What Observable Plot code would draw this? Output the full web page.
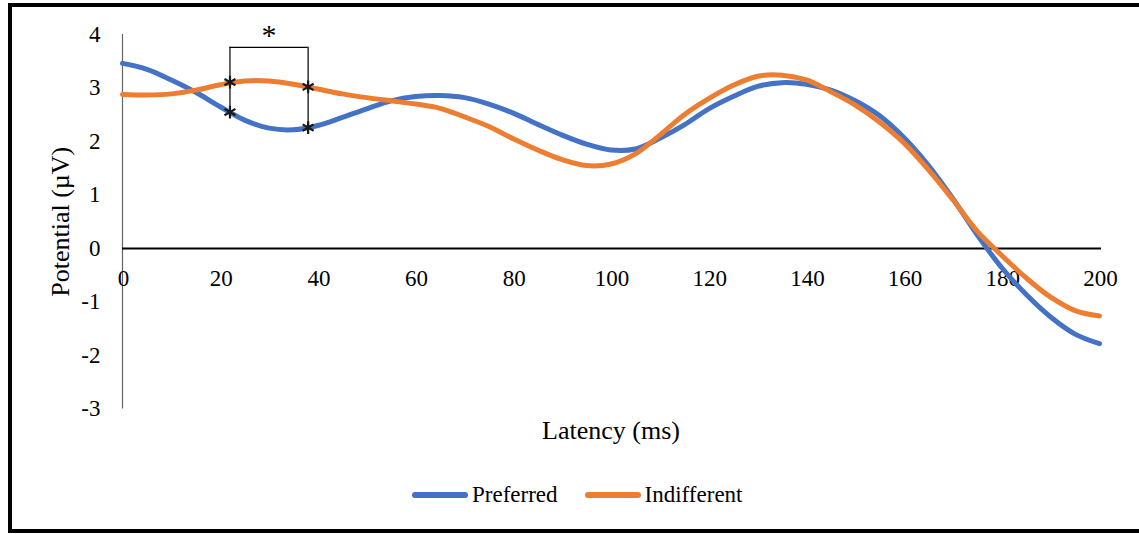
<!DOCTYPE html>
<html>
<head>
<meta charset="utf-8">
<script src="https://cdn.jsdelivr.net/npm/d3@7"></script>
<script src="https://cdn.jsdelivr.net/npm/@observablehq/plot@0.6"></script>
<style>
  html, body { margin: 0; padding: 0; background: #fff; overflow: hidden; }
  #wrap { position: relative; width: 1139px; height: 534px; font-family: "Liberation Serif", "Times New Roman", serif; }
  #chart { position: absolute; left: 0; top: 0; }
  #frame { position: absolute; left: 8px; top: 3px; width: 1150px; height: 522px; border: 4px solid #000; pointer-events: none; }
  #legend { position: absolute; left: 412px; top: 482px; display: flex; align-items: center; font-size: 23px; color: #000; }
  .item { display: flex; align-items: center; }
  .swatch { width: 56px; height: 6px; border-radius: 3px; margin-right: 4px; }
</style>
</head>
<body>
<div id="wrap">
  <div id="chart"></div>
  <div id="legend"></div>
  <div id="frame"></div>
</div>
<script>
// Grand-average waveforms, sampled every 5 ms
const latency = [0,5,10,15,20,25,30,35,40,45,50,55,60,65,70,75,80,85,90,95,100,
                 105,110,115,120,125,130,135,140,145,150,155,160,165,170,175,180,185,190,195,200];
const preferred = [3.46,3.35,3.15,2.92,2.65,2.40,2.25,2.22,2.30,2.45,2.61,2.76,2.84,2.86,2.82,2.70,2.53,2.32,2.12,1.95,1.84,
                   1.86,2.06,2.31,2.61,2.84,3.03,3.10,3.07,2.96,2.76,2.48,2.07,1.55,0.93,0.25,-0.36,-0.86,-1.28,-1.60,-1.78];
const indifferent = [2.88,2.87,2.89,2.96,3.06,3.13,3.13,3.07,2.98,2.89,2.82,2.76,2.70,2.62,2.46,2.28,2.05,1.84,1.66,1.55,1.58,
                     1.77,2.12,2.50,2.80,3.05,3.22,3.24,3.15,2.93,2.68,2.36,1.97,1.47,0.91,0.32,-0.13,-0.55,-0.91,-1.16,-1.26];

const seriesNames = ["Preferred", "Indifferent"];
const seriesColors = ["#4472C4", "#ED7D31"];

const xTicks = [0,20,40,60,80,100,120,140,160,180,200];
const yTicks = [-3,-2,-1,0,1,2,3,4];

// Significant window (ms) and the values marked at its edges
const sigWindow = [22, 38];
const sigPreferred = [2.55, 2.26];
const sigIndifferent = [3.11, 3.02];
const bracketTop = 3.76;
const bracketBottom = [2.45, 2.13];

const rows = [];
latency.forEach((t, i) => {
  rows.push({t, v: preferred[i], s: seriesNames[0]});
  rows.push({t, v: indifferent[i], s: seriesNames[1]});
});
const sigPoints = [
  ...sigWindow.map((t, i) => ({t, v: sigPreferred[i]})),
  ...sigWindow.map((t, i) => ({t, v: sigIndifferent[i]}))
];
const bracketLegs = sigWindow.map((t, i) => ({t, y1: bracketTop, y2: bracketBottom[i]}));

const chart = Plot.plot({
  width: 1139,
  height: 460,
  marginLeft: 122,
  marginRight: 40,
  marginTop: 34,
  marginBottom: 51.5,
  style: {fontFamily: "Liberation Serif, Times New Roman, serif", fontSize: "23px", color: "#000", background: "transparent"},
  x: {domain: [0, 200], axis: null},
  y: {domain: [-3, 4]},
  color: {domain: seriesNames, range: seriesColors},
  marks: [
    Plot.axisY({ticks: yTicks, tickSize: 0, tickPadding: 22, tickFormat: d => String(d), label: null, fontSize: 23}),
    Plot.ruleX([0], {y1: -3, y2: 4, stroke: "#666", strokeWidth: 1.2}),
    Plot.ruleY([0], {x1: 0, x2: 200.4, stroke: "#000", strokeWidth: 2.2}),
    Plot.text(xTicks, {x: d => d, y: 0, dy: 30, dx: 1, text: d => String(d), fontSize: 23, fill: "#000"}),
    Plot.text(["Potential (\u00b5V)"], {frameAnchor: "left", textAnchor: "middle", dx: -62, rotate: -90, text: d => d, fontSize: 26, fill: "#000"}),
    Plot.text(["Latency (ms)"], {frameAnchor: "bottom", lineAnchor: "middle", dy: 22, text: d => d, fontSize: 26, fill: "#000"}),
    Plot.line(rows, {x: "t", y: "v", z: "s", stroke: "s", strokeWidth: 5, curve: "catmull-rom", strokeLinecap: "round", strokeLinejoin: "round"}),
    Plot.ruleX(bracketLegs, {x: "t", y1: "y1", y2: "y2", stroke: "#000", strokeWidth: 1.2}),
    Plot.ruleY([bracketTop], {x1: sigWindow[0], x2: sigWindow[1], stroke: "#000", strokeWidth: 1.2}),
    Plot.dot(sigPoints, {x: "t", y: "v", symbol: "asterisk", r: 6, stroke: "#1a1a1a", strokeWidth: 2.2}),
    Plot.text(["*"], {x: (sigWindow[0] + sigWindow[1]) / 2, y: bracketTop, dy: -2, lineAnchor: "bottom", text: d => d, fontSize: 30, fill: "#000"})
  ]
});
document.getElementById("chart").appendChild(chart);

const legend = document.getElementById("legend");
seriesNames.forEach((name, i) => {
  const item = document.createElement("div");
  item.className = "item";
  if (i > 0) item.style.marginLeft = "27px";
  const sw = document.createElement("div");
  sw.className = "swatch";
  sw.style.background = seriesColors[i];
  const label = document.createElement("span");
  label.textContent = name;
  item.appendChild(sw);
  item.appendChild(label);
  legend.appendChild(item);
});
</script>
</body>
</html>
